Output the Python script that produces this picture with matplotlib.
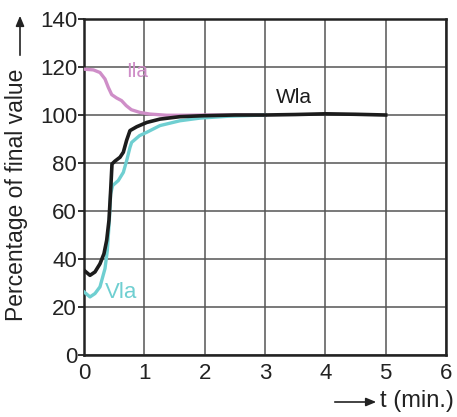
import matplotlib
matplotlib.use("Agg")
import matplotlib.pyplot as plt

plt.rcParams['font.family'] = ['Liberation Sans', 'DejaVu Sans']

# Data
t_I = [0.0, 0.155, 0.265, 0.348, 0.403, 0.459, 0.54, 0.622, 0.70, 0.785, 0.923, 1.09, 1.37, 1.7, 2.0, 2.5, 3.0]
I_la = [119.1, 118.8, 117.7, 115.0, 111.5, 108.5, 107.1, 106.0, 103.9, 102.2, 101.1, 100.4, 99.9, 99.9, 100.0, 100.0, 100.0]

t_W = [0.0, 0.099, 0.182, 0.265, 0.331, 0.376, 0.414, 0.442, 0.464, 0.514, 0.597, 0.652, 0.707,
       0.762, 0.873, 1.04, 1.26, 1.59, 1.97, 2.5, 3.0, 3.5, 4.0, 4.5, 5.0]
W_la = [35.3, 33.2, 34.6, 38.0, 42.2, 47.8, 56.1, 68.6, 79.6, 80.8, 82.4, 84.5, 89.5,
        93.5, 95.1, 96.9, 98.3, 99.3, 99.7, 100.0, 100.0, 100.2, 100.5, 100.3, 100.0]

t_V = [0.0, 0.099, 0.182, 0.265, 0.348, 0.387, 0.42, 0.442, 0.475, 0.569, 0.652, 0.707, 0.762,
       0.79, 0.92, 1.04, 1.26, 1.59, 1.92, 2.4, 3.0]
V_la = [26.3, 24.2, 25.6, 28.4, 36.0, 43.6, 56.1, 67.2, 70.6, 72.7, 76.1, 81.0, 86.5,
        88.6, 91.4, 92.8, 95.6, 97.6, 98.7, 99.5, 100.0]

x_ticks = [0, 1, 2, 3, 4, 5, 6]
y_ticks = [0, 20, 40, 60, 80, 100, 120, 140]

c_I = '#cf8ec8'
c_W = '#1c1c1c'
c_V = '#6fcfd1'

fig = plt.figure(figsize=(4.57, 4.17), dpi=100)
ax = fig.add_axes([0.1838, 0.1487, 0.976 - 0.1838, 0.9544 - 0.1487])

ax.plot(t_I, I_la, color=c_I, lw=2.4, solid_joinstyle='round', zorder=3)
ax.plot(t_V, V_la, color=c_V, lw=2.4, solid_joinstyle='round', zorder=3)
ax.plot(t_W, W_la, color=c_W, lw=2.6, solid_joinstyle='round', zorder=4)

ax.set_xlim(0, 6)
ax.set_ylim(0, 140)
ax.set_xticks(x_ticks)
ax.set_yticks(y_ticks)
ax.set_xticklabels([str(v) for v in x_ticks])
ax.set_yticklabels([str(v) for v in y_ticks])
ax.grid(True, color='#555555', lw=1.1, zorder=1)
ax.set_axisbelow(True)
for s in ax.spines.values():
    s.set_linewidth(1.8)
    s.set_color('#222222')
ax.tick_params(axis='y', direction='out', length=4, width=1.3, pad=1, labelsize=16, colors='#222222')
ax.tick_params(axis='x', length=0, pad=6, labelsize=16, colors='#222222')

ax.text(0.70, 118.3, 'Ila', color=c_I, fontsize=15, ha='left', va='center')
ax.text(3.18, 107.3, 'Wla', color=c_W, fontsize=15, ha='left', va='center')
ax.text(0.35, 26.0, 'Vla', color=c_V, fontsize=16, ha='left', va='center')

# y label with arrow
fig.text(17 / 457, 1 - 195 / 417, 'Percentage of final value', rotation=90,
         ha='center', va='center', fontsize=16.5, color='#222222')
fig.add_artist(matplotlib.patches.FancyArrowPatch(
    (20 / 457, 1 - 58 / 417), (20 / 457, 1 - 13 / 417), transform=fig.transFigure,
    arrowstyle='-|>,head_length=6,head_width=2.5', color='#222222', lw=1.2))

# x label with arrow
fig.text(380 / 457, 1 - 401 / 417, 't (min.)', ha='left', va='center', fontsize=17, color='#222222')
fig.add_artist(matplotlib.patches.FancyArrowPatch(
    (332 / 457, 1 - 402 / 417), (379 / 457, 1 - 402 / 417), transform=fig.transFigure,
    arrowstyle='-|>,head_length=6,head_width=2.5', color='#222222', lw=1.2))

fig.savefig('out.png', dpi=100)
